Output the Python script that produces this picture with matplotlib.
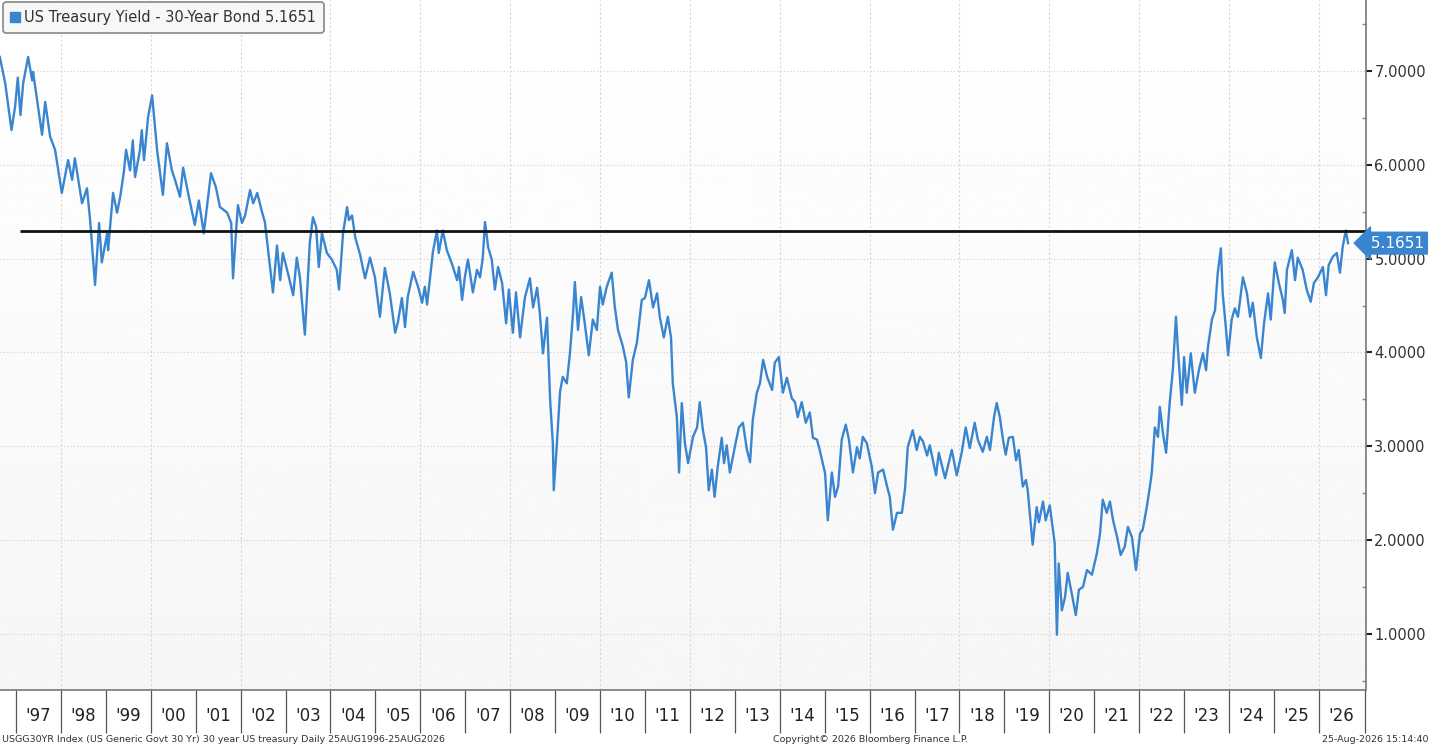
import matplotlib
matplotlib.use("Agg")
import matplotlib.pyplot as plt
import numpy as np
from matplotlib.lines import Line2D

# 30-year US Treasury yield (decimal year, percent)
years = [
    1996.64, 1996.76, 1996.90, 1996.98, 1997.04, 1997.10, 1997.16, 1997.27, 1997.36, 1997.38,
    1997.47, 1997.58, 1997.65, 1997.76, 1997.87, 1998.02, 1998.16, 1998.25, 1998.31, 1998.47,
    1998.58, 1998.65, 1998.76, 1998.85, 1998.91, 1999.03, 1999.05, 1999.16, 1999.25, 1999.32,
    1999.40, 1999.45, 1999.54, 1999.60, 1999.65, 1999.76, 1999.80, 1999.85, 1999.94, 2000.03,
    2000.14, 2000.27, 2000.36, 2000.47, 2000.54, 2000.65, 2000.72, 2000.83, 2000.98, 2001.07,
    2001.18, 2001.34, 2001.45, 2001.54, 2001.70, 2001.79, 2001.83, 2001.90, 2001.94, 2002.03,
    2002.10, 2002.21, 2002.28, 2002.37, 2002.48, 2002.54, 2002.63, 2002.72, 2002.81, 2002.88,
    2002.94, 2003.05, 2003.17, 2003.25, 2003.32, 2003.43, 2003.54, 2003.61, 2003.68, 2003.74,
    2003.81, 2003.92, 2004.03, 2004.14, 2004.19, 2004.28, 2004.37, 2004.41, 2004.48, 2004.55,
    2004.66, 2004.77, 2004.88, 2004.99, 2005.10, 2005.21, 2005.32, 2005.44, 2005.50, 2005.59,
    2005.66, 2005.72, 2005.84, 2005.95, 2006.04, 2006.10, 2006.15, 2006.21, 2006.28, 2006.37,
    2006.41, 2006.50, 2006.59, 2006.70, 2006.82, 2006.86, 2006.93, 2006.99, 2007.06, 2007.17,
    2007.26, 2007.33, 2007.39, 2007.44, 2007.51, 2007.59, 2007.66, 2007.73, 2007.82, 2007.91,
    2007.97, 2008.06, 2008.13, 2008.22, 2008.33, 2008.44, 2008.51, 2008.60, 2008.66, 2008.73,
    2008.82, 2008.89, 2008.95, 2008.97, 2009.04, 2009.11, 2009.17, 2009.26, 2009.33, 2009.40,
    2009.44, 2009.51, 2009.58, 2009.66, 2009.75, 2009.84, 2009.93, 2010.00, 2010.06, 2010.15,
    2010.26, 2010.33, 2010.40, 2010.51, 2010.58, 2010.64, 2010.73, 2010.82, 2010.93, 2011.00,
    2011.09, 2011.18, 2011.27, 2011.33, 2011.42, 2011.51, 2011.58, 2011.62, 2011.71, 2011.76,
    2011.82, 2011.89, 2011.96, 2012.07, 2012.16, 2012.22, 2012.29, 2012.36, 2012.42, 2012.49,
    2012.55, 2012.62, 2012.71, 2012.76, 2012.82, 2012.89, 2013.00, 2013.09, 2013.18, 2013.27,
    2013.34, 2013.40, 2013.49, 2013.56, 2013.63, 2013.72, 2013.83, 2013.89, 2013.98, 2014.07,
    2014.16, 2014.27, 2014.34, 2014.40, 2014.49, 2014.58, 2014.67, 2014.74, 2014.83, 2014.89,
    2015.01, 2015.07, 2015.16, 2015.23, 2015.30, 2015.38, 2015.47, 2015.54, 2015.63, 2015.72,
    2015.78, 2015.85, 2015.94, 2016.05, 2016.12, 2016.19, 2016.30, 2016.39, 2016.45, 2016.52,
    2016.61, 2016.72, 2016.79, 2016.85, 2016.96, 2017.05, 2017.12, 2017.19, 2017.28, 2017.34,
    2017.48, 2017.54, 2017.68, 2017.83, 2017.94, 2018.05, 2018.14, 2018.23, 2018.34, 2018.41,
    2018.52, 2018.61, 2018.68, 2018.77, 2018.83, 2018.90, 2018.97, 2019.03, 2019.10, 2019.19,
    2019.26, 2019.32, 2019.41, 2019.48, 2019.52, 2019.63, 2019.72, 2019.77, 2019.86, 2019.92,
    2020.01, 2020.08, 2020.12, 2020.17, 2020.21, 2020.28, 2020.35, 2020.41, 2020.50, 2020.59,
    2020.66, 2020.75, 2020.84, 2020.95, 2021.06, 2021.13, 2021.19, 2021.28, 2021.35, 2021.42,
    2021.51, 2021.59, 2021.68, 2021.75, 2021.84, 2021.93, 2022.02, 2022.08, 2022.17, 2022.24,
    2022.28, 2022.35, 2022.42, 2022.46, 2022.53, 2022.60, 2022.68, 2022.75, 2022.82, 2022.86,
    2022.95, 2023.00, 2023.06, 2023.15, 2023.24, 2023.33, 2023.42, 2023.49, 2023.53, 2023.62,
    2023.69, 2023.75, 2023.82, 2023.86, 2023.93, 2023.98, 2024.06, 2024.13, 2024.20, 2024.31,
    2024.40, 2024.47, 2024.53, 2024.62, 2024.71, 2024.78, 2024.87, 2024.93, 2025.02, 2025.11,
    2025.20, 2025.24, 2025.29, 2025.40, 2025.47, 2025.53, 2025.64, 2025.73, 2025.82, 2025.89,
    2025.98, 2026.09, 2026.16, 2026.22, 2026.31, 2026.40, 2026.47, 2026.53, 2026.60, 2026.65,
]
yields = [
    7.15, 6.87, 6.37, 6.62, 6.93, 6.53, 6.87, 7.15, 6.90, 6.99,
    6.69, 6.32, 6.67, 6.30, 6.16, 5.70, 6.05, 5.84, 6.07, 5.59,
    5.75, 5.41, 4.72, 5.38, 4.96, 5.27, 5.09, 5.70, 5.49, 5.66,
    5.92, 6.16, 5.94, 6.26, 5.87, 6.16, 6.37, 6.05, 6.51, 6.74,
    6.16, 5.68, 6.23, 5.94, 5.84, 5.66, 5.97, 5.70, 5.36, 5.62,
    5.27, 5.91, 5.76, 5.55, 5.49, 5.38, 4.79, 5.30, 5.57, 5.38,
    5.46, 5.73, 5.59, 5.70, 5.49, 5.39, 5.01, 4.64, 5.14, 4.77,
    5.06, 4.85, 4.61, 5.01, 4.80, 4.19, 5.17, 5.44, 5.34, 4.91,
    5.27, 5.06, 4.99, 4.88, 4.67, 5.27, 5.55, 5.41, 5.46, 5.23,
    5.04, 4.79, 5.01, 4.80, 4.38, 4.90, 4.63, 4.21, 4.32, 4.58,
    4.27, 4.59, 4.86, 4.70, 4.53, 4.70, 4.51, 4.77, 5.07, 5.30,
    5.06, 5.30, 5.09, 4.95, 4.77, 4.91, 4.56, 4.80, 4.99, 4.64,
    4.88, 4.80, 5.01, 5.39, 5.12, 4.99, 4.67, 4.91, 4.74, 4.31,
    4.67, 4.21, 4.64, 4.16, 4.59, 4.79, 4.48, 4.69, 4.42, 3.99,
    4.37, 3.49, 3.03, 2.53, 3.03, 3.58, 3.74, 3.67, 3.99, 4.42,
    4.75, 4.24, 4.59, 4.31, 3.97, 4.35, 4.24, 4.70, 4.51, 4.70,
    4.85, 4.48, 4.24, 4.06, 3.90, 3.52, 3.92, 4.10, 4.56, 4.58,
    4.77, 4.48, 4.63, 4.38, 4.16, 4.38, 4.16, 3.67, 3.31, 2.72,
    3.46, 3.03, 2.82, 3.10, 3.20, 3.47, 3.17, 2.99, 2.53, 2.75,
    2.46, 2.78, 3.09, 2.82, 3.01, 2.72, 2.99, 3.20, 3.25, 2.96,
    2.83, 3.28, 3.57, 3.67, 3.92, 3.74, 3.60, 3.89, 3.95, 3.57,
    3.73, 3.51, 3.47, 3.31, 3.47, 3.25, 3.36, 3.09, 3.07, 2.96,
    2.71, 2.21, 2.72, 2.46, 2.57, 3.07, 3.23, 3.07, 2.72, 2.99,
    2.87, 3.10, 3.03, 2.78, 2.50, 2.72, 2.75, 2.57, 2.46, 2.11,
    2.29, 2.29, 2.55, 2.99, 3.17, 2.96, 3.10, 3.05, 2.90, 3.01,
    2.69, 2.93, 2.66, 2.96, 2.69, 2.93, 3.20, 2.98, 3.25, 3.07,
    2.94, 3.10, 2.96, 3.31, 3.46, 3.31, 3.07, 2.91, 3.09, 3.10,
    2.85, 2.96, 2.57, 2.64, 2.53, 1.95, 2.35, 2.19, 2.41, 2.21,
    2.37, 2.11, 1.97, 0.99, 1.75, 1.25, 1.39, 1.65, 1.43, 1.20,
    1.47, 1.50, 1.68, 1.63, 1.86, 2.07, 2.43, 2.29, 2.41, 2.21,
    2.03, 1.84, 1.93, 2.14, 2.03, 1.68, 2.07, 2.11, 2.35, 2.57,
    2.71, 3.20, 3.10, 3.42, 3.14, 2.93, 3.46, 3.81, 4.38, 4.06,
    3.44, 3.95, 3.57, 3.99, 3.57, 3.81, 3.99, 3.81, 4.05, 4.35,
    4.45, 4.85, 5.11, 4.63, 4.27, 3.97, 4.35, 4.47, 4.38, 4.80,
    4.63, 4.38, 4.53, 4.16, 3.94, 4.31, 4.63, 4.35, 4.96, 4.74,
    4.56, 4.42, 4.88, 5.09, 4.77, 5.01, 4.88, 4.67, 4.54, 4.74,
    4.80, 4.91, 4.61, 4.93, 5.02, 5.06, 4.85, 5.12, 5.30, 5.1651,
]

last_value = 5.1651
ref_level = 5.29
ref_start = 1997.09
year_labels = ["'%02d" % (y % 100) for y in range(1997, 2027)]
ytick_values = [1, 2, 3, 4, 5, 6, 7]

footer_left = "USGG30YR Index (US Generic Govt 30 Yr) 30 year US treasury Daily 25AUG1996-25AUG2026"
footer_mid = "Copyright\u00a9 2026 Bloomberg Finance L.P."
footer_right = "25-Aug-2026 15:14:40"
legend_label = "US Treasury Yield - 30-Year Bond %.4f" % last_value

BLUE = "#3a85d0"

plt.rcParams["font.family"] = ["DejaVu Sans"]

fig = plt.figure(figsize=(14.3, 7.51), dpi=100)
fig.patch.set_facecolor("white")
ax = fig.add_axes([0.0, 1 - 690 / 751, 1366 / 1430, 690 / 751])

xmin, xmax = 1996.644, 2027.05
ymin, ymax = 0.401, 7.757
ax.set_xlim(xmin, xmax)
ax.set_ylim(ymin, ymax)

# faint top-to-bottom background gradient
grad = np.linspace(1.0, 0.965, 256).reshape(-1, 1)
ax.imshow(grad, cmap="gray", vmin=0, vmax=1, aspect="auto",
          extent=[xmin, xmax, ymin, ymax], zorder=0)

for yv in ytick_values:
    ax.axhline(yv, color="#cfcfcf", lw=0.8, ls=(0, (1, 2)), zorder=1)
for yr in range(1998, 2027, 2):
    ax.axvline(yr, color="#d6d6d6", lw=0.8, ls=(0, (2, 2)), zorder=1)

ax.plot(years, yields, color=BLUE, lw=1.7, zorder=3)
ax.hlines(ref_level, ref_start, xmax, color="#111111", lw=2.0, zorder=4)

# right-hand value axis
ax.yaxis.tick_right()
ax.set_yticks(ytick_values)
ax.set_yticklabels(["%.4f" % v for v in ytick_values])
ax.set_yticks(np.arange(0.5, 7.6, 1.0), minor=True)
ax.tick_params(axis="y", which="major", direction="out", length=4, width=1.5,
               color="#222222", labelsize=10.5, labelcolor="#333333", pad=2)
ax.tick_params(axis="y", which="minor", direction="in", length=3, width=1,
               color="#888888")

# year band under the plot
ax.set_xticks([])
band = 43 / 690
ax.vlines(list(range(1997, 2027)) + [xmax - 0.03], -band, 0,
          transform=ax.get_xaxis_transform(), color="#555555", lw=0.9, clip_on=False)
for yr, lab in zip(range(1997, 2027), year_labels):
    ax.text(yr + 0.5, -26 / 690, lab, transform=ax.get_xaxis_transform(),
            ha="center", va="center", fontsize=12, color="#222222")

for side in ["top", "left"]:
    ax.spines[side].set_visible(False)
ax.spines["right"].set_color("#777777")
ax.spines["bottom"].set_color("#777777")
ax.spines["right"].set_linewidth(1.2)
ax.spines["bottom"].set_linewidth(1.2)

# last value tag
ax.text(1.0, last_value, " %.4f" % last_value, transform=ax.get_yaxis_transform(),
        ha="left", va="center", fontsize=11, color="white", clip_on=False, zorder=6,
        bbox=dict(boxstyle="larrow,pad=0.22", fc=BLUE, ec=BLUE))

handle = Line2D([], [], marker="s", ls="none", color=BLUE, markersize=7)
leg = ax.legend([handle], [legend_label], loc="upper left", bbox_to_anchor=(0.002, 0.997),
                borderaxespad=0, frameon=True, fancybox=True, edgecolor="#888888",
                facecolor="#f7f7f7", framealpha=1, fontsize=10.5, handlelength=0.6,
                handletextpad=0.3, borderpad=0.55, labelcolor="#333333")
leg.get_frame().set_linewidth(1.2)

fig.text(2 / 1430, 1 - 740 / 751, footer_left, fontsize=6.8, color="#333333",
         ha="left", va="center")
fig.text(871 / 1430, 1 - 740 / 751, footer_mid, fontsize=6.8, color="#333333",
         ha="center", va="center")
fig.text(1428 / 1430, 1 - 740 / 751, footer_right, fontsize=6.8, color="#333333",
         ha="right", va="center")

fig.savefig("out.png", dpi=100)
